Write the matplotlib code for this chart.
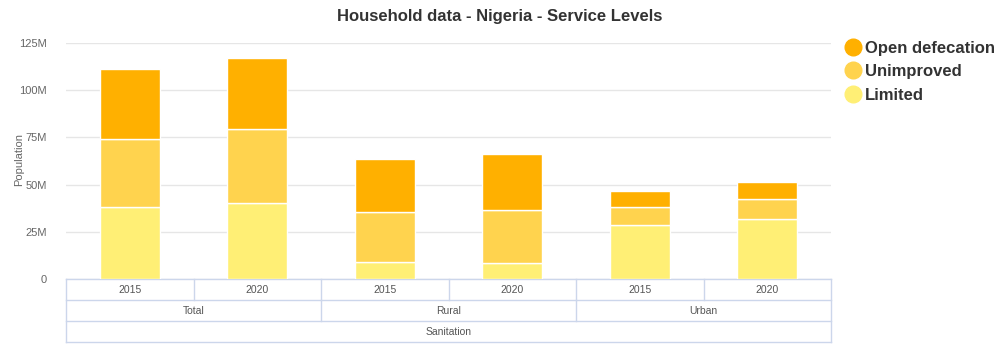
import numpy as np
import matplotlib
matplotlib.use("Agg")
from matplotlib import pyplot as plt
from matplotlib.lines import Line2D

plt.rcParams['font.family'] = ['Liberation Sans', 'DejaVu Sans']

years = ["2015", "2020", "2015", "2020", "2015", "2020"]
areas = ["Total", "Rural", "Urban"]
group = "Sanitation"

# values in millions
limited = [38.1, 40.3, 9.2, 8.3, 28.4, 31.6]
unimproved = [36.1, 39.1, 26.3, 28.1, 9.9, 10.6]
open_defecation = [37.0, 37.7, 28.2, 29.6, 8.3, 9.3]

series = ["Limited", "Unimproved", "Open defecation"]
colors = ["#ffef75", "#ffd34e", "#ffb000"]

fig = plt.figure(figsize=(10, 3.61), dpi=100)
ax = fig.add_axes([0.066, 0.2271, 0.765, 0.6537])

x = np.arange(len(years))
bottom = np.zeros(len(years))
for vals, col, name in zip([limited, unimproved, open_defecation], colors, series):
    ax.bar(x, vals, 0.47, bottom=bottom, color=col, edgecolor="white", linewidth=1, label=name, zorder=3)
    bottom += np.array(vals)

ax.set_xlim(-0.5, len(years) - 0.5)
ax.set_ylim(0, 125)
ax.set_yticks([0, 25, 50, 75, 100, 125])
ax.set_yticklabels(["0", "25M", "50M", "75M", "100M", "125M"], color="#666666", fontsize=8)
ax.tick_params(axis="y", length=0, pad=14)
ax.set_xticks([])
ax.grid(axis="y", color="#e6e6e6", linewidth=1, zorder=0)
for s in ["top", "right", "left", "bottom"]:
    ax.spines[s].set_visible(False)
fig.text(0.019, 0.557, "Population", rotation=90, ha="center", va="center", color="#666666", fontsize=8)

# category table below the plot
rh = 21 / 236
bc = "#ccd6eb"
tr = ax.transAxes
n = len(years)
for i in range(4):
    ax.plot([0, 1], [-i * rh, -i * rh], color=bc, lw=1, transform=tr, clip_on=False)
ax.plot([0, 0], [0, -3 * rh], color=bc, lw=1, transform=tr, clip_on=False)
ax.plot([1, 1], [0, -3 * rh], color=bc, lw=1, transform=tr, clip_on=False)
for i in range(1, n):
    ax.plot([i / n, i / n], [0, -rh], color=bc, lw=1, transform=tr, clip_on=False)
for i in range(1, len(areas)):
    ax.plot([i / len(areas), i / len(areas)], [-rh, -2 * rh], color=bc, lw=1, transform=tr, clip_on=False)
for i, yr in enumerate(years):
    ax.text((i + 0.5) / n, -0.5 * rh, yr, transform=tr, ha="center", va="center", fontsize=7.5, color="#555555")
for i, a in enumerate(areas):
    ax.text((i + 0.5) / len(areas), -1.5 * rh, a, transform=tr, ha="center", va="center", fontsize=7.5, color="#555555")
ax.text(0.5, -2.5 * rh, group, transform=tr, ha="center", va="center", fontsize=7.5, color="#555555")

fig.text(0.5, 0.953, "Household data - Nigeria - Service Levels", ha="center", va="center",
         fontsize=12, fontweight="bold", color="#333333")

handles = [Line2D([], [], marker="o", ls="", markersize=12, color=c) for c in colors[::-1]]
fig.legend(handles, series[::-1], loc="upper left", bbox_to_anchor=(0.84, 0.905), frameon=False,
           handlelength=0.8, handletextpad=0.3, labelspacing=0.5, borderaxespad=0,
           prop={"weight": "bold", "size": 12}, labelcolor="#333333")

fig.savefig("out.png", dpi=100)
